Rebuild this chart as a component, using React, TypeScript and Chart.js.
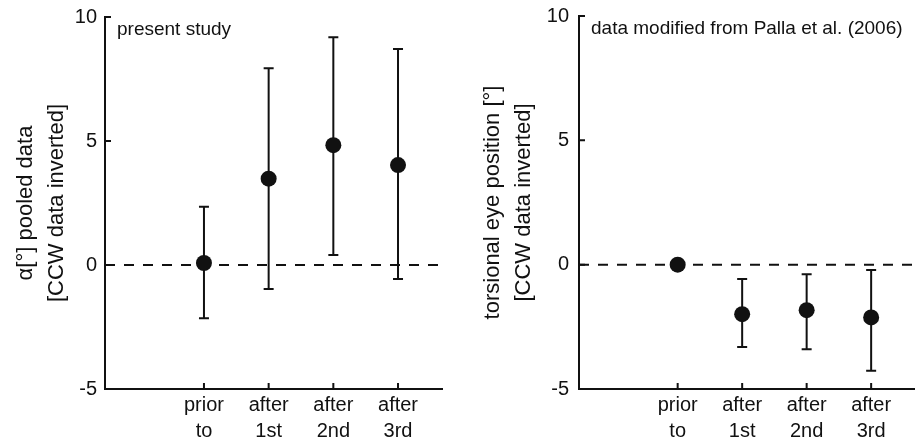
import React, { useEffect, useRef } from 'react';
import { Chart, registerables } from 'chart.js';

Chart.register(...registerables);

// ---------- data ----------
const CATEGORIES: string[][] = [['prior', 'to'], ['after', '1st'], ['after', '2nd'], ['after', '3rd']];
const X_POSITIONS = [1, 2, 3, 4];
const Y_TICKS = [-5, 0, 5, 10];

const LEFT_MEAN = [0.08, 3.48, 4.83, 4.03];
const LEFT_UPPER = [2.35, 7.93, 9.18, 8.71];
const LEFT_LOWER = [-2.15, -0.97, 0.4, -0.56];

const RIGHT_MEAN = [0, -1.99, -1.83, -2.12];
const RIGHT_UPPER = [0, -0.58, -0.39, -0.21];
const RIGHT_LOWER = [0, -3.31, -3.4, -4.27];

const LEFT_TITLE = ['\u03b1[\u00b0] pooled data', '[CCW data inverted]'];
const RIGHT_TITLE = ['torsional eye position [\u00b0]', '[CCW data inverted]'];
const LEFT_NOTE = 'present study';
const RIGHT_NOTE = 'data modified from Palla et al. (2006)';

const INK = '#111111';
const FAMILY = '"Liberation Sans", Arial, Helvetica, sans-serif';

const overlay = {
  id: 'overlay',
  beforeDatasetsDraw(chart: any, _args: any, opts: any) {
    const { ctx, chartArea, scales } = chart;
    const xs = scales.x;
    const ys = scales.y;
    ctx.save();
    ctx.strokeStyle = INK;
    ctx.lineWidth = 2;
    // dashed zero line
    const y0 = ys.getPixelForValue(0);
    ctx.setLineDash([10, 9]);
    ctx.beginPath();
    ctx.moveTo(chartArea.left, y0);
    ctx.lineTo(chartArea.right, y0);
    ctx.stroke();
    ctx.setLineDash([]);
    // error bars
    const upper: number[] = opts.upper;
    const lower: number[] = opts.lower;
    upper.forEach((u, i) => {
      const l = lower[i];
      if (u === l) return;
      const px = xs.getPixelForValue(X_POSITIONS[i]);
      const pu = ys.getPixelForValue(u);
      const pl = ys.getPixelForValue(l);
      ctx.beginPath();
      ctx.moveTo(px, pu);
      ctx.lineTo(px, pl);
      ctx.moveTo(px - 5, pu);
      ctx.lineTo(px + 5, pu);
      ctx.moveTo(px - 5, pl);
      ctx.lineTo(px + 5, pl);
      ctx.stroke();
    });
    // inward tick marks
    ctx.beginPath();
    Y_TICKS.forEach((v) => {
      const py = ys.getPixelForValue(v);
      ctx.moveTo(chartArea.left, py);
      ctx.lineTo(chartArea.left + 6, py);
    });
    X_POSITIONS.forEach((v) => {
      const px = xs.getPixelForValue(v);
      ctx.moveTo(px, chartArea.bottom);
      ctx.lineTo(px, chartArea.bottom - 6);
    });
    ctx.stroke();
    // annotation
    ctx.font = `19px ${FAMILY}`;
    ctx.fillStyle = INK;
    ctx.textBaseline = 'alphabetic';
    ctx.textAlign = 'left';
    ctx.fillText(opts.note, chartArea.left + 12, chartArea.top + 18);
    ctx.restore();
  },
};

type PanelProps = {
  left: number;
  width: number;
  axisWidth: number;
  padRight: number;
  padTop: number;
  mean: number[];
  upper: number[];
  lower: number[];
  title: string[];
  titlePad: number;
  tickPad: number;
  note: string;
};

function Panel(p: PanelProps) {
  const ref = useRef<HTMLCanvasElement>(null);
  useEffect(() => {
    if (!ref.current) return;
    const chart = new Chart(ref.current, {
      type: 'scatter',
      data: {
        datasets: [
          {
            data: p.mean.map((m, i) => ({ x: X_POSITIONS[i], y: m })),
            pointRadius: 8,
            pointHoverRadius: 8,
            backgroundColor: INK,
            borderColor: INK,
            borderWidth: 0,
            showLine: false,
          },
        ],
      },
      options: {
        responsive: false,
        animation: false,
        events: [],
        layout: { autoPadding: false, padding: { top: p.padTop, right: p.padRight, left: 0, bottom: 0 } },
        plugins: {
          legend: { display: false },
          tooltip: { enabled: false },
          overlay: { upper: p.upper, lower: p.lower, note: p.note },
        } as any,
        scales: {
          x: {
            type: 'linear',
            min: -0.53,
            max: 4.68,
            afterBuildTicks: (s: any) => {
              s.ticks = X_POSITIONS.map((v) => ({ value: v }));
            },
            afterFit: (s: any) => {
              s.height = 51;
              s.paddingLeft = 0;
              s.paddingRight = 0;
              s.paddingTop = 0;
              s.paddingBottom = 0;
            },
            grid: { display: false, drawTicks: false },
            border: { display: true, color: INK, width: 2 },
            ticks: {
              autoSkip: false,
              maxRotation: 0,
              minRotation: 0,
              padding: 3,
              color: INK,
              font: { family: FAMILY, size: 20, lineHeight: 1.3 },
              callback: (v: any) => {
                const idx = X_POSITIONS.indexOf(Number(v));
                return idx >= 0 ? CATEGORIES[idx] : '';
              },
            },
          },
          y: {
            type: 'linear',
            min: -5,
            max: 10,
            afterBuildTicks: (s: any) => {
              s.ticks = Y_TICKS.map((v) => ({ value: v }));
            },
            afterFit: (s: any) => {
              s.width = p.axisWidth;
              s.paddingLeft = 0;
              s.paddingRight = 0;
              s.paddingTop = 0;
              s.paddingBottom = 0;
            },
            grid: { display: false, drawTicks: false },
            border: { display: true, color: INK, width: 2 },
            ticks: {
              padding: p.tickPad,
              color: INK,
              font: { family: FAMILY, size: 20 },
              callback: (v: any) => String(v),
            },
            title: {
              display: true,
              text: p.title,
              color: INK,
              font: { family: FAMILY, size: 22, lineHeight: 1.38 },
              padding: { top: p.titlePad, bottom: 0 },
            },
          },
        },
      },
      plugins: [overlay as any],
    });
    return () => chart.destroy();
  }, []);
  return (
    <canvas
      ref={ref}
      width={p.width}
      height={440}
      style={{ position: 'absolute', left: p.left, top: 0, width: p.width, height: 440 }}
    />
  );
}

export default function App() {
  return (
    <div style={{ position: 'fixed', left: 0, top: 0, width: 915, height: 440, background: '#ffffff', overflow: 'hidden' }}>
      <Panel
        left={0}
        width={455}
        axisWidth={105}
        padRight={13}
        padTop={17}
        mean={LEFT_MEAN}
        upper={LEFT_UPPER}
        lower={LEFT_LOWER}
        title={LEFT_TITLE}
        titlePad={11}
        tickPad={8}
        note={LEFT_NOTE}
      />
      <Panel
        left={455}
        width={460}
        axisWidth={124}
        padRight={0}
        padTop={16}
        mean={RIGHT_MEAN}
        upper={RIGHT_UPPER}
        lower={RIGHT_LOWER}
        title={RIGHT_TITLE}
        titlePad={23}
        tickPad={10}
        note={RIGHT_NOTE}
      />
    </div>
  );
}
